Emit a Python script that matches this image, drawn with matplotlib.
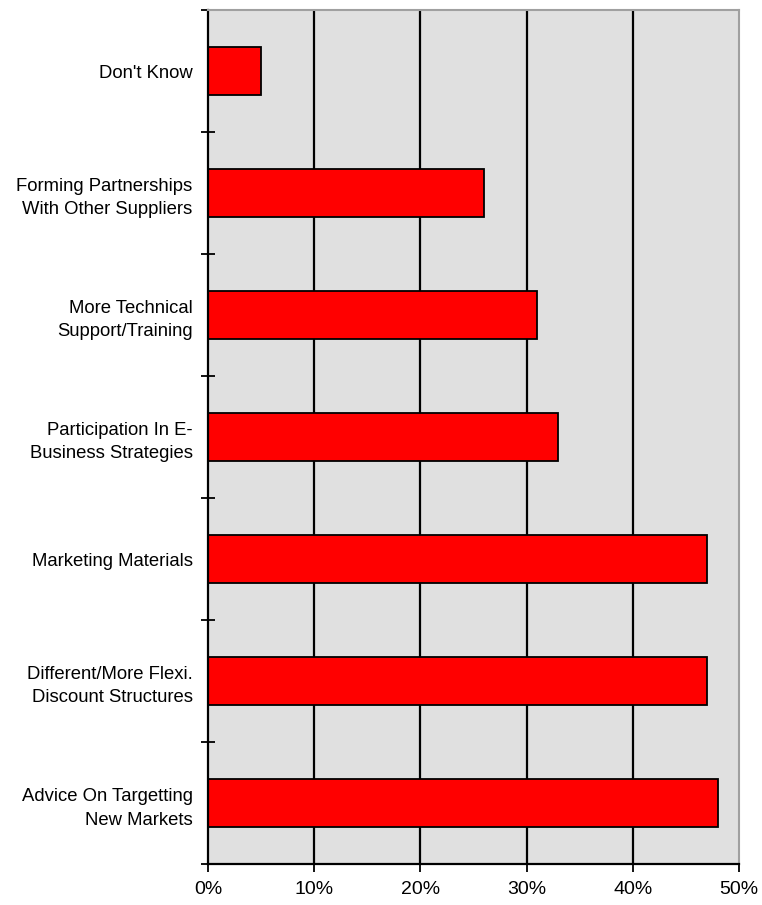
import matplotlib.pyplot as plt
from matplotlib.ticker import FixedLocator

# Dữ liệu (từ dưới lên trên)
categories = [
    "Advice On Targetting\nNew Markets",
    "Different/More Flexi.\nDiscount Structures",
    "Marketing Materials",
    "Participation In E-\nBusiness Strategies",
    "More Technical\nSupport/Training",
    "Forming Partnerships\nWith Other Suppliers",
    "Don't Know",
]
values = [48, 47, 47, 33, 31, 26, 5]
x_ticks = [0, 10, 20, 30, 40, 50]
x_labels = ["0%", "10%", "20%", "30%", "40%", "50%"]

plt.rcParams['font.family'] = ['Liberation Sans', 'DejaVu Sans']

fig = plt.figure(figsize=(7.62, 9.05), dpi=100)
ax = fig.add_axes([208 / 762, 1 - 864 / 905, 531 / 762, 854 / 905])
ax.set_facecolor('#e0e0e0')

# Lưới dọc
for xt in x_ticks[1:-1]:
    ax.axvline(xt, color='black', linewidth=1.6, zorder=1)

ypos = list(range(len(categories)))
ax.barh(ypos, values, height=0.4, color='#ff0000', edgecolor='black',
        linewidth=1.3, zorder=2)

ax.set_xlim(0, 50)
ax.set_ylim(-0.5, len(categories) - 0.5)

ax.set_xticks(x_ticks)
ax.set_xticklabels(x_labels, fontsize=14)
ax.set_yticks(ypos)
ax.set_yticklabels(categories, fontsize=13.3, linespacing=1.5)
ax.yaxis.set_minor_locator(FixedLocator([k - 0.5 for k in range(len(categories) + 1)]))

ax.tick_params(axis='y', which='major', length=0, pad=11)
ax.tick_params(axis='y', which='minor', length=10, direction='inout', width=1.3)
ax.tick_params(axis='x', length=6, width=1.3, direction='out', pad=6)

for s in ['top', 'right']:
    ax.spines[s].set_color('#a0a0a0')
    ax.spines[s].set_linewidth(1.5)
for s in ['left', 'bottom']:
    ax.spines[s].set_color('black')
    ax.spines[s].set_linewidth(1.6)

plt.savefig("out.png", dpi=100)
